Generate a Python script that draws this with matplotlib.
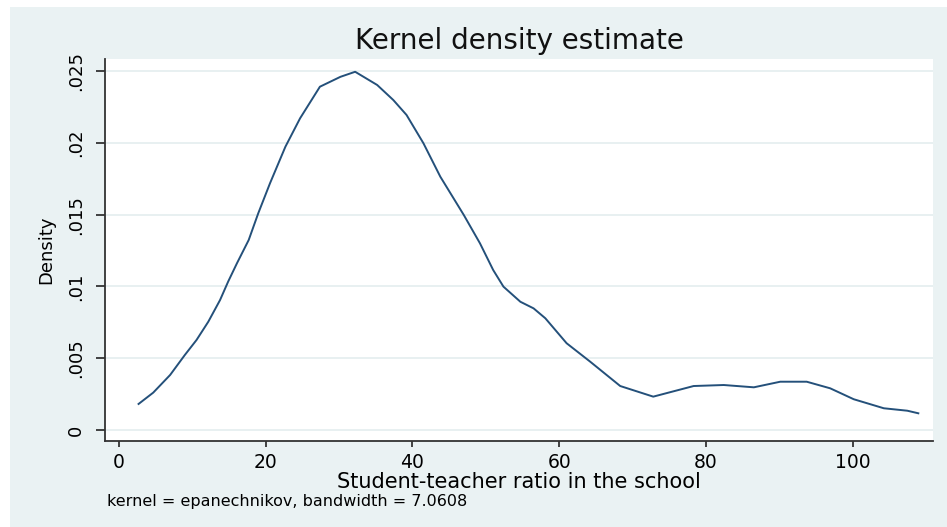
import matplotlib
matplotlib.use("Agg")
import matplotlib.pyplot as plt
from matplotlib.patches import Rectangle

# kernel density curve
ratio = [2.7, 4.7, 7.0, 9.0, 10.6, 12.2, 13.8, 14.9, 16.1, 17.7, 19.0, 20.6,
         22.7, 24.7, 27.4, 30.2, 32.2, 35.2, 37.4, 39.2, 41.5, 43.8, 47.0,
         49.2, 51.0, 52.4, 54.7, 56.5, 58.1, 61.0, 64.2, 68.3, 72.8, 78.3,
         82.4, 86.5, 90.1, 93.7, 96.9, 100.1, 104.2, 107.4, 108.9]
density = [0.00181, 0.00260, 0.00383, 0.00522, 0.00627, 0.00754, 0.00905,
           0.01033, 0.01161, 0.01323, 0.01509, 0.01718, 0.01973, 0.02171,
           0.02391, 0.02460, 0.02495, 0.02403, 0.02298, 0.02194, 0.01997,
           0.01764, 0.01497, 0.01300, 0.01114, 0.00998, 0.00893, 0.00847,
           0.00778, 0.00604, 0.00476, 0.00306, 0.00232, 0.00306, 0.00313,
           0.00297, 0.00336, 0.00336, 0.00290, 0.00214, 0.00151, 0.00134,
           0.00116]

xticks = [0, 20, 40, 60, 80, 100]
yticks = [0, 0.005, 0.01, 0.015, 0.02, 0.025]
ylabels = ["0", ".005", ".01", ".015", ".02", ".025"]

fig = plt.figure(figsize=(9.47, 5.27), dpi=100)
fig.patch.set_facecolor("white")
# stata style graph region
fig.add_artist(Rectangle((10 / 947, 0), 1, 1 - 7 / 527, transform=fig.transFigure,
                         facecolor="#EAF2F3", edgecolor="none", zorder=0))

ax = fig.add_axes([105 / 947, 1 - 441 / 527, 828 / 947, 382 / 527])
ax.set_facecolor("white")
ax.plot(ratio, density, color="#24507A", lw=1.4)

ax.set_xlim(-1.87, 110.9)
ax.set_ylim(-0.00077, 0.02584)
ax.set_xticks(xticks)
ax.set_yticks(yticks)
ax.set_yticklabels(ylabels, rotation=90, va="center")
ax.grid(axis="y", color="#E4EDEF", lw=1.2)
ax.set_axisbelow(True)

for s in ["top", "right"]:
    ax.spines[s].set_visible(False)
for s in ["left", "bottom"]:
    ax.spines[s].set_linewidth(1.3)
    ax.spines[s].set_color("#333333")
ax.tick_params(axis="y", length=6.5, width=1.3, pad=8, labelsize=13, color="#333333")
ax.tick_params(axis="x", length=4, width=1.3, pad=4.5, labelsize=13.5, color="#333333")

ax.set_xlabel("Student-teacher ratio in the school", fontsize=15, va="top")
ax.xaxis.set_label_coords(0.5, (441 - 472) / 382)
ax.set_ylabel("Density", fontsize=13, va="center")
ax.yaxis.set_label_coords((46 - 105) / 828, 0.5)
ax.set_title("Kernel density estimate", fontsize=20, pad=7, color="#111111")

fig.text(107 / 947, 1 - 506 / 527, "kernel = epanechnikov, bandwidth = 7.0608",
         fontsize=11.5, va="baseline")

fig.savefig("out.png", dpi=100, facecolor=fig.get_facecolor())
